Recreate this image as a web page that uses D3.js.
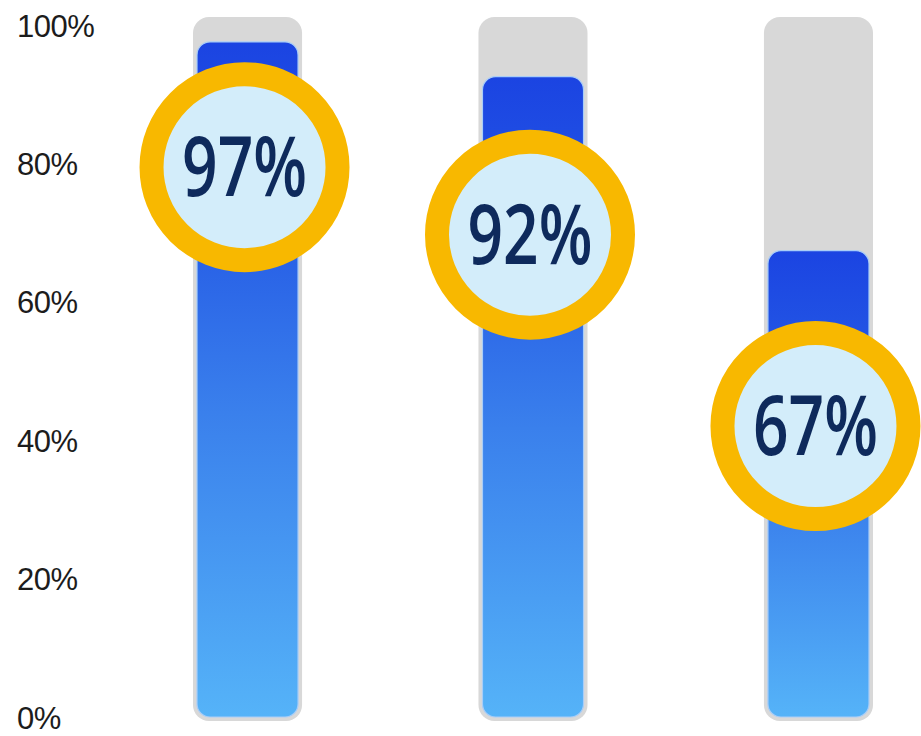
<!DOCTYPE html>
<html>
<head>
<meta charset="utf-8">
<script src="https://cdn.jsdelivr.net/npm/d3@7"></script>
<style>
  html, body { margin: 0; padding: 0; background: #fff; }
  svg { display: block; }
</style>
</head>
<body>
<script>
// data
var categories = ['A', 'B', 'C'];
var values = [97, 92, 67];
var labelAt = [79, 69.3, 41.8];   // where the badge sits, in % units
var tickValues = [0, 20, 40, 60, 80, 100];

var w = 921,
    h = 736;

var svg = d3.select('body')
            .append('svg')
            .attr('width', w)
            .attr('height', h);

// scales
var xScale = d3.scaleBand()
               .domain(categories)
               .range([193, 873])
               .paddingInner(0.618)
               .paddingOuter(0);

var yScale = d3.scaleLinear()
               .domain([0, 100])
               .range([717, 21]);

// tick labels sit on a slightly different spacing than the bars
var tickScale = d3.scaleLinear()
                  .domain([0, 100])
                  .range([718, 26]);

// gradient for the blue bars
var defs = svg.append('defs');
var grad = defs.append('linearGradient')
               .attr('id', 'barGrad')
               .attr('x1', 0).attr('y1', 0)
               .attr('x2', 0).attr('y2', 1);
grad.append('stop').attr('offset', '0%').attr('stop-color', '#1b44e2');
grad.append('stop').attr('offset', '25%').attr('stop-color', '#2459e5');
grad.append('stop').attr('offset', '55%').attr('stop-color', '#3a80ec');
grad.append('stop').attr('offset', '100%').attr('stop-color', '#55b3f8');

// y labels
svg.selectAll('text.tick')
   .data(tickValues)
   .enter()
   .append('text')
   .attr('class', 'tick')
   .text(function(d) { return d + '%'; })
   .attr('x', 17)
   .attr('y', function(d) { return tickScale(d); })
   .attr('dominant-baseline', 'central')
   .attr('font-family', 'Liberation Sans, Arial, sans-serif')
   .attr('font-size', '31px')
   .attr('letter-spacing', '-0.5')
   .attr('fill', '#1c1c1c');

var pad = 4;

// grey tracks (the full 100%)
svg.selectAll('rect.track')
   .data(categories)
   .enter()
   .append('rect')
   .attr('class', 'track')
   .attr('x', function(d) { return xScale(d); })
   .attr('y', yScale(100) - pad)
   .attr('width', xScale.bandwidth())
   .attr('height', yScale(0) - yScale(100) + 2 * pad)
   .attr('rx', 16)
   .attr('fill', '#d8d8d8');

// blue bars
svg.selectAll('rect.bar')
   .data(values)
   .enter()
   .append('rect')
   .attr('class', 'bar')
   .attr('x', function(d, i) { return xScale(categories[i]) + pad; })
   .attr('y', function(d) { return yScale(d); })
   .attr('width', xScale.bandwidth() - 2 * pad)
   .attr('height', function(d) { return yScale(0) - yScale(d); })
   .attr('rx', 13)
   .attr('fill', 'url(#barGrad)')
   .attr('stroke', '#a9cdf7')
   .attr('stroke-width', 1.2);

// badges
var badges = svg.selectAll('g.badge')
   .data(values)
   .enter()
   .append('g')
   .attr('class', 'badge')
   .attr('transform', function(d, i) {
      var cx = xScale(categories[i]) + xScale.bandwidth() / 2 - 3;
      return 'translate(' + cx + ',' + yScale(labelAt[i]) + ')';
   });

badges.append('circle')
      .attr('r', 93)
      .attr('fill', '#d3edfa')
      .attr('stroke', '#f8b800')
      .attr('stroke-width', 24);

badges.append('text')
      .text(function(d) { return d + '%'; })
      .attr('x', 0)
      .attr('y', 29)
      .attr('text-anchor', 'middle')
      .attr('font-family', 'Open Sans, sans-serif')
      .attr('font-weight', 600)
      .attr('font-size', '83px')
      .attr('textLength', 125)
      .attr('lengthAdjust', 'spacingAndGlyphs')
      .attr('fill', '#0e2a5c');
</script>
</body>
</html>
